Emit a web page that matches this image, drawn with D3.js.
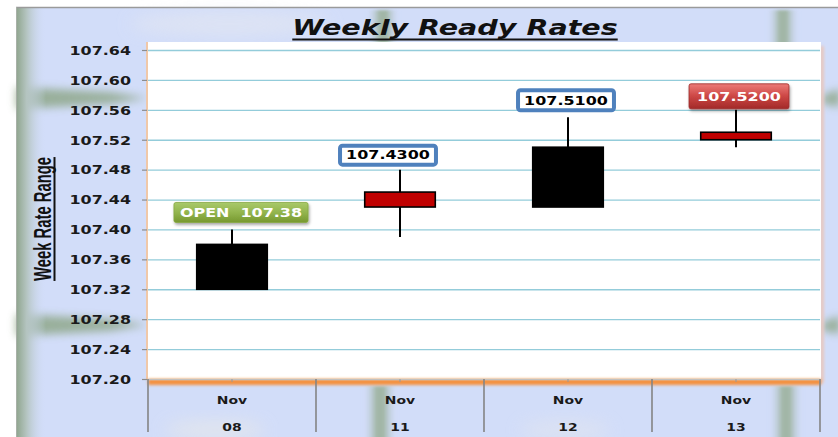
<!DOCTYPE html>
<html>
<head>
<meta charset="utf-8">
<script src="https://cdn.jsdelivr.net/npm/d3@7"></script>
<style>
  html, body { margin: 0; padding: 0; background: #fff; }
  svg { display: block; }
  text { white-space: pre; }
</style>
</head>
<body>
<svg id="chart" width="838" height="437"></svg>
<script>
// ---- data ----
const months = ["Nov", "Nov", "Nov", "Nov"];
const days = ["08", "11", "12", "13"];
const openV  = [107.38, 107.43, 107.51, 107.52];
const highV  = [107.40, 107.48, 107.55, 107.56];
const lowV   = [107.32, 107.39, 107.43, 107.51];
const closeV = [107.32, 107.45, 107.43, 107.53];
const labelTexts = ["OPEN  107.38", "107.4300", "107.5100", "107.5200"];
const tickLabels = ["107.20","107.24","107.28","107.32","107.36","107.40","107.44","107.48","107.52","107.56","107.60","107.64"];
const titleText = "Weekly Ready Rates";
const yTitle = "Week Rate Range";

// ---- styles ----
const labelStyle = [
  {kind: "green", dx: 9, gap: 7, h: 20},
  {kind: "blue", dx: -12, gap: 3, h: 23},
  {kind: "blue", dx: -2, gap: 5, h: 24},
  {kind: "red", dx: 3, gap: 1, h: 25}
];
const SX = 1.33; // horizontal text stretch

const svg = d3.select("#chart");
const defs = svg.append("defs");

const blur = (id, s) => defs.append("filter").attr("id", id)
  .attr("x", "-50%").attr("y", "-50%").attr("width", "200%").attr("height", "200%")
  .append("feGaussianBlur").attr("stdDeviation", s);
blur("b8", 8); blur("b5", 5); blur("b2", 1.6); blur("b4", 4);

const shadow = defs.append("filter").attr("id", "sh").attr("x","-20%").attr("y","-30%").attr("width","140%").attr("height","170%");
shadow.append("feDropShadow").attr("dx", 1).attr("dy", 2).attr("stdDeviation", 1.5).attr("flood-color", "#000").attr("flood-opacity", 0.35);

function lg(id, x2, y2, stops) {
  const g = defs.append("linearGradient").attr("id", id).attr("x1", 0).attr("y1", 0).attr("x2", x2).attr("y2", y2);
  stops.forEach(s => g.append("stop").attr("offset", s[0]).attr("stop-color", s[1]).attr("stop-opacity", s[2] ?? 1));
}
lg("leftEdge", 1, 0, [[0, "#8ea48c"], [0.35, "#b4c4c0"], [1, "#d2ddf9", 0]]);
lg("greenV", 1, 0, [[0, "#d2ddf9", 0], [0.4, "#93aa8c"], [0.6, "#93aa8c"], [1, "#d2ddf9", 0]]);
lg("greenBox", 0, 1, [[0, "#a9c96a"], [0.5, "#93b54e"], [1, "#76982f"]]);
lg("redBox", 0, 1, [[0, "#ec7a78"], [0.5, "#cc4644"], [1, "#a22a28"]]);

// ---- background ----
svg.append("rect").attr("x", 16).attr("y", 8).attr("width", 822).attr("height", 429).attr("fill", "#d2ddf9");
// lighter glows
svg.append("ellipse").attr("cx", 230).attr("cy", 24).attr("rx", 100).attr("ry", 12).attr("fill", "#e2e6f2").attr("opacity", 0.7).attr("filter", "url(#b8)");
svg.append("ellipse").attr("cx", 215).attr("cy", 430).attr("rx", 50).attr("ry", 10).attr("fill", "#e6e8ea").attr("opacity", 0.7).attr("filter", "url(#b8)");
svg.append("ellipse").attr("cx", 565).attr("cy", 430).attr("rx", 45).attr("ry", 10).attr("fill", "#e2e5ee").attr("opacity", 0.6).attr("filter", "url(#b8)");
// green streaks
[[98], [325]].forEach(([cy]) => {
  svg.append("path")
    .attr("d", `M16,${cy-11} L110,${cy-6} L148,${cy} L110,${cy+6} L16,${cy+11} Z`)
    .attr("fill", "#86a07c").attr("opacity", 0.75).attr("filter", "url(#b4)");
  svg.append("path")
    .attr("d", `M840,${cy-9} L828,${cy-5} L818,${cy+2} L828,${cy+7} L840,${cy+9} Z`)
    .attr("fill", "#86a07c").attr("opacity", 0.75).attr("filter", "url(#b4)");
});
[[366, 10, 34, 36], [766, 10, 34, 36], [362, 386, 36, 56], [768, 386, 36, 56]].forEach(([x, y, w, h]) => {
  svg.append("rect").attr("x", x).attr("y", y).attr("width", w).attr("height", h)
    .attr("fill", "url(#greenV)").attr("opacity", 0.75).attr("filter", "url(#b2)");
});
svg.append("rect").attr("x", 16).attr("y", 8).attr("width", 30).attr("height", 429).attr("fill", "url(#leftEdge)");
svg.append("line").attr("x1", 16).attr("x2", 838).attr("y1", 7.5).attr("y2", 7.5).attr("stroke", "#9a9a9a").attr("stroke-width", 1.5);
svg.append("line").attr("x1", 16.5).attr("x2", 16.5).attr("y1", 7).attr("y2", 437).attr("stroke", "#a8b0a8").attr("stroke-width", 1);

// ---- scales ----
const plot = {left: 148, right: 821, top: 42, bottom: 379};
const cats = days.map((d, i) => months[i] + " " + d);
const x = d3.scaleBand().domain(cats).range([plot.left, plot.right - 1]).paddingInner(0).paddingOuter(0);
const tickVals = tickLabels.map(Number);
const y = d3.scaleLinear().domain([tickVals[0], tickVals[tickVals.length - 1]]).range([plot.bottom, 50]);

// plot area
svg.append("rect").attr("x", plot.right - 1).attr("y", plot.top + 4).attr("width", 4).attr("height", plot.bottom - plot.top)
  .attr("fill", "#e8c8c0").attr("filter", "url(#b2)");
svg.append("rect").attr("x", plot.left).attr("y", plot.top).attr("width", plot.right - plot.left).attr("height", plot.bottom - plot.top).attr("fill", "#fff");
svg.append("rect").attr("x", plot.left - 2).attr("y", plot.top).attr("width", 2).attr("height", plot.bottom - plot.top)
  .attr("fill", "#f0c8a8");
svg.append("rect").attr("x", plot.left).attr("y", plot.bottom).attr("width", plot.right - plot.left).attr("height", 6)
  .attr("fill", "#f5913e").attr("filter", "url(#b2)");

// gridlines via axis
const grid = svg.append("g").attr("transform", `translate(${plot.left},0)`)
  .call(d3.axisLeft(y).tickValues(tickVals).tickSize(-(plot.right - plot.left - 1)).tickFormat(""));
grid.select(".domain").remove();
grid.selectAll(".tick line").attr("stroke", "#93ccda").attr("stroke-width", 1.3);
grid.selectAll(".tick").filter(d => d === tickVals[0]).select("line").attr("stroke", "#c8c8c8");

// y axis ticks + labels
const yAx = svg.append("g").attr("transform", `translate(${plot.left - 1},0)`)
  .call(d3.axisLeft(y).tickValues(tickVals).tickSize(5).tickFormat((d, i) => tickLabels[i]));
yAx.select(".domain").remove();
yAx.selectAll(".tick line").attr("stroke", "#8c8c8c").attr("stroke-width", 1.2);
yAx.selectAll(".tick text").each(function () {
  const t = d3.select(this);
  t.attr("x", null).attr("dy", null).attr("text-anchor", "end")
    .attr("font-family", "DejaVu Sans").attr("font-weight", "bold").attr("font-size", 12)
    .attr("fill", "#1a1a1a")
    .attr("transform", `translate(-16,4.3) scale(${SX},1)`);
});

// x axis
svg.append("line").attr("x1", plot.left).attr("x2", plot.right).attr("y1", plot.bottom + 0.5).attr("y2", plot.bottom + 0.5)
  .attr("stroke", "#c0c0c0").attr("stroke-width", 1);
const bounds = cats.map(c => x(c)).concat([x(cats[cats.length - 1]) + x.bandwidth()]);
svg.selectAll("line.sep").data(bounds).join("line").attr("class", "sep")
  .attr("x1", d => d).attr("x2", d => d).attr("y1", plot.bottom).attr("y2", 432)
  .attr("stroke", "#848484").attr("stroke-width", 1.6);
svg.selectAll("line.xt").data(cats).join("line").attr("class", "xt")
  .attr("x1", d => x(d) + x.bandwidth() / 2).attr("x2", d => x(d) + x.bandwidth() / 2)
  .attr("y1", plot.bottom).attr("y2", plot.bottom + 3).attr("stroke", "#999").attr("stroke-width", 1);
const xl = svg.selectAll("g.xl").data(cats).join("g").attr("class", "xl");
xl.append("text").attr("transform", (d) => `translate(${x(d) + x.bandwidth() / 2},404) scale(${SX},1)`)
  .attr("text-anchor", "middle").attr("font-family", "DejaVu Sans").attr("font-weight", "bold").attr("font-size", 10.5)
  .attr("fill", "#1a1a1a").text((d, i) => months[i]);
xl.append("text").attr("transform", (d) => `translate(${x(d) + x.bandwidth() / 2},431) scale(${SX},1)`)
  .attr("text-anchor", "middle").attr("font-family", "DejaVu Sans").attr("font-weight", "bold").attr("font-size", 10.5)
  .attr("fill", "#1a1a1a").text((d, i) => days[i]);

// ---- candles ----
const bw = x.bandwidth() * 0.42;
const cx = i => x(cats[i]) + x.bandwidth() / 2;
const candles = svg.selectAll("g.candle").data(cats).join("g").attr("class", "candle");
candles.append("line")
  .attr("x1", (d, i) => cx(i)).attr("x2", (d, i) => cx(i))
  .attr("y1", (d, i) => y(highV[i])).attr("y2", (d, i) => y(lowV[i]))
  .attr("stroke", "#000").attr("stroke-width", 2);
candles.append("rect")
  .attr("x", (d, i) => cx(i) - bw / 2).attr("width", bw)
  .attr("y", (d, i) => y(Math.max(openV[i], closeV[i])))
  .attr("height", (d, i) => Math.abs(y(openV[i]) - y(closeV[i])))
  .attr("fill", (d, i) => closeV[i] >= openV[i] ? "#c00000" : "#000")
  .attr("stroke", "#000").attr("stroke-width", 1.6);

// ---- labels ----
labelTexts.forEach((txt, i) => {
  const st = labelStyle[i];
  const g = svg.append("g");
  const bottom = y(highV[i]) - st.gap;
  const h = st.h;
  const mid = cx(i) + st.dx;
  const t = g.append("text").attr("text-anchor", "middle")
    .attr("font-family", "DejaVu Sans").attr("font-weight", "bold").attr("font-size", 12)
    .attr("fill", st.kind === "blue" ? "#000" : "#fff")
    .attr("transform", `translate(${mid},${bottom - h / 2 + 4.3}) scale(${SX},1)`)
    .text(txt);
  const tw = t.node().getBBox().width * SX;
  const w = tw + (st.kind === "green" ? 12 : 16);
  if (st.kind === "blue") {
    g.insert("rect", "text").attr("x", mid - w / 2 + 2).attr("y", bottom - h + 2).attr("width", w - 4).attr("height", h - 4)
      .attr("rx", 2.5).attr("fill", "#fff").attr("stroke", "#4f81bd").attr("stroke-width", 4);
  } else {
    g.insert("rect", "text").attr("x", mid - w / 2).attr("y", bottom - h).attr("width", w).attr("height", h)
      .attr("rx", 2).attr("fill", st.kind === "green" ? "url(#greenBox)" : "url(#redBox)")
      .attr("stroke", st.kind === "green" ? "#86a843" : "#9a2a28").attr("stroke-width", 0.8)
      .attr("filter", "url(#sh)");
  }
});

// ---- title ----
const tt = svg.append("text").attr("text-anchor", "middle")
  .attr("font-family", "DejaVu Sans").attr("font-weight", "bold").attr("font-style", "italic").attr("font-size", 21.5)
  .attr("fill", "#111")
  .attr("transform", `translate(455,35) scale(${SX},1)`).text(titleText);
const tww = tt.node().getBBox().width * SX;
svg.append("line").attr("x1", 455 - tww / 2).attr("x2", 455 + tww / 2).attr("y1", 39.5).attr("y2", 39.5)
  .attr("stroke", "#111").attr("stroke-width", 2);

// ---- y title ----
const NARROW = 0.8;
const yt = svg.append("text").attr("text-anchor", "middle")
  .attr("font-family", "Liberation Sans, Arial, sans-serif").attr("font-weight", "bold").attr("font-size", 18.5)
  .attr("fill", "#111")
  .attr("transform", `translate(51,219) scale(${SX},1) rotate(-90) scale(${NARROW},1)`).text(yTitle);
const ytl = yt.node().getBBox().width * NARROW;
svg.append("line").attr("x1", 54.5).attr("x2", 54.5).attr("y1", 219 - ytl / 2).attr("y2", 219 + ytl / 2)
  .attr("stroke", "#111").attr("stroke-width", 2);
</script>
</body>
</html>
